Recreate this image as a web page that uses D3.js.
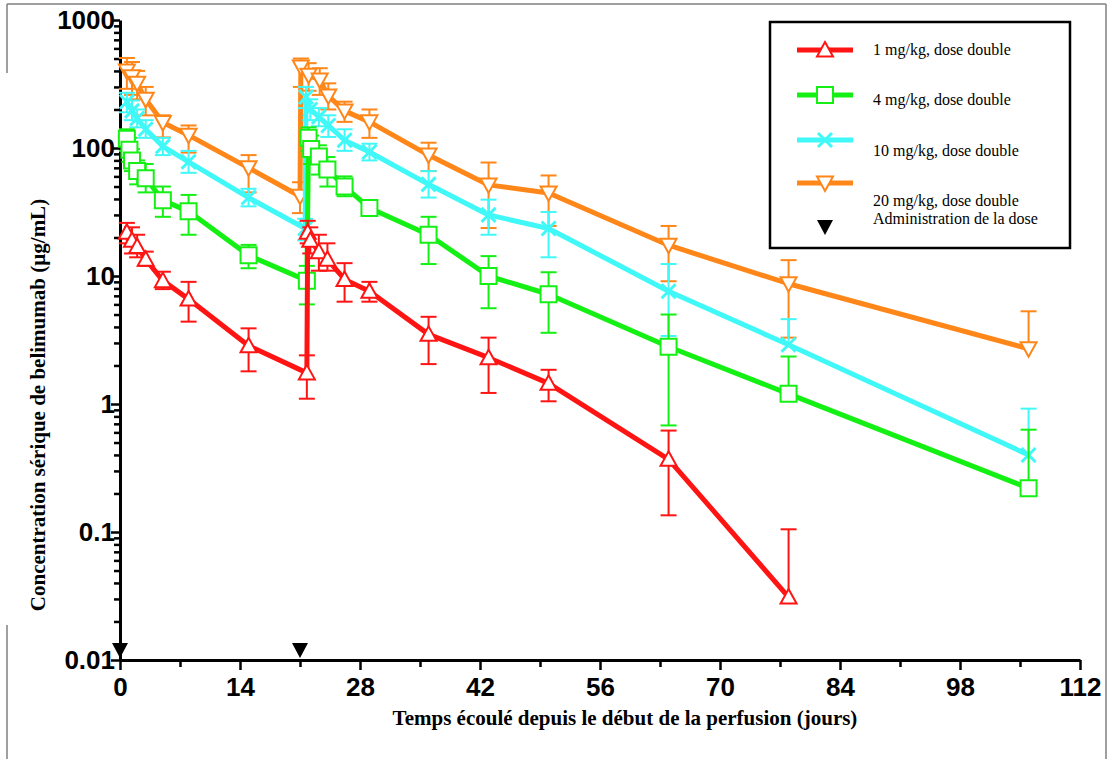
<!DOCTYPE html>
<html>
<head>
<meta charset="utf-8">
<script src="https://cdn.jsdelivr.net/npm/d3@7"></script>
<style>
  body { margin: 0; background: #fff; }
  svg { display: block; }
</style>
</head>
<body>
<div id="chart"></div>
<script>
// ticks
var xTicks = [0, 14, 28, 42, 56, 70, 84, 98, 112];
var xMinorTicks = [7, 21, 35, 49, 63, 77, 91, 105];
var yTicks = [0.01, 0.1, 1, 10, 100, 1000];
var doseDays = [0, 21];

// 1 mg/kg : day, mean, upper SD end, lower SD end (null = not drawn)
var d1Days  = [0.8, 1.4, 2, 3, 5, 8, 15, 21.8, 21.9, 22.2, 23.2, 24.2, 26.2, 29.1, 36, 43, 50, 64, 78];
var d1Mean  = [22, 19, 17, 13.5, 9.2, 6.6, 2.85, 1.75, 22, 19, 15.5, 13.5, 9.4, 7.6, 3.5, 2.3, 1.45, 0.37, 0.031];
var d1Upper = [26, 24, 21, 15.5, 10.8, 9, 3.9, 2.4, 27, 24, 21, 18, 12.6, 9, 4.8, 3.3, 1.85, 0.62, 0.105];
var d1Lower = [18, 15, 14, 12, 7.9, 4.4, 1.8, 1.1, 18, 15, 11, 11, 6.3, 6.3, 2.05, 1.22, 1.05, 0.135, null];

// 4 mg/kg
var d4Days  = [0.8, 1.1, 1.4, 2, 3, 5, 8, 15, 21.8, 22, 22.3, 23.2, 24.2, 26.2, 29.1, 36, 43, 50, 64, 78, 106];
var d4Mean  = [118, 97, 80, 66, 58, 39, 32, 14.5, 9.2, 120, 98, 86, 68, 50, 34, 21, 10, 7.2, 2.8, 1.2, 0.22];
var d4Upper = [140, 120, 98, 80, 75, 50, 43, 17.5, 12, 145, 125, 105, 85, 60, 37, 29, 14.3, 10.7, 5, 2.35, 0.63];
var d4Lower = [95, 78, 66, 52, 45, 29, 21, 11.5, 6, 95, 75, 62, 50, 42, 30, 12.4, 5.6, 3.6, 0.68, null, null];

// 10 mg/kg
var d10Days  = [0.8, 1.4, 2, 3, 5, 8, 15, 21.6, 21.7, 22.2, 23.2, 24.3, 26.2, 29.1, 36, 43, 50, 64, 78, 106];
var d10Mean  = [230, 195, 170, 140, 103, 78, 41, 23.5, 250, 200, 175, 150, 115, 93, 52, 30, 23.5, 7.6, 2.9, 0.4];
var d10Upper = [270, 235, 200, 165, 120, 95, 48, 28, 300, 240, 205, 180, 140, 108, 66, 39.5, 31.6, 12.4, 4.6, 0.92];
var d10Lower = [190, 165, 145, 120, 88, 64, 35, 19, 205, 165, 148, 122, 95, 80, 41, 21, 14, 3.4, null, null];

// 20 mg/kg
var d20Days  = [0.8, 1.4, 2, 3, 5, 8, 15, 21, 21.1, 22, 23.3, 24.3, 26.2, 29.1, 36, 43, 50, 64, 78, 106];
var d20Mean  = [400, 360, 320, 240, 158, 126, 70, 42, 430, 370, 340, 255, 195, 160, 88, 51.5, 44.5, 17.4, 8.7, 2.7];
var d20Upper = [505, 470, 400, 300, 180, 150, 88, 54, 500, 460, 420, 320, 230, 200, 110, 77, 61, 24.6, 13.3, 5.3];
var d20Lower = [290, 260, 240, 180, 121, 92, 45, 31, 300, 280, 260, 200, 160, 120, 66, 23.7, 24.6, 9.1, 3.3, null];

var seriesNames = ["1 mg/kg, dose double", "4 mg/kg, dose double", "10 mg/kg, dose double", "20 mg/kg, dose double"];
var doseLabel = "Administration de la dose";
var colors = ["#ff1414", "#14f014", "#40f8f8", "#ff8618"];
var shapes = ["up", "square", "cross", "down"];

function build(days, mean, up, lo) {
  return days.map(function(d, i) {
    return { day: d, mean: mean[i], up: up[i], lo: lo[i] };
  });
}

var series = [
  build(d1Days, d1Mean, d1Upper, d1Lower),
  build(d4Days, d4Mean, d4Upper, d4Lower),
  build(d10Days, d10Mean, d10Upper, d10Lower),
  build(d20Days, d20Mean, d20Upper, d20Lower)
];

var svgWidth = 1113, svgHeight = 759;

var svg = d3.select("#chart").append("svg")
  .attr("width", svgWidth)
  .attr("height", svgHeight);

// scanned page frame
var frame = svg.append("g").attr("stroke", "#808080").attr("stroke-width", 1.5).attr("fill", "none");
frame.append("line").attr("x1", 7).attr("y1", 4).attr("x2", 1106).attr("y2", 4);
frame.append("line").attr("x1", 1106).attr("y1", 4).attr("x2", 1106).attr("y2", 759);
frame.append("line").attr("x1", 7).attr("y1", 4).attr("x2", 7).attr("y2", 73);
frame.append("line").attr("x1", 7).attr("y1", 625).attr("x2", 7).attr("y2", 759);

var xScale = d3.scaleLinear().domain([0, 112]).range([120, 1080]);
var yScale = d3.scaleLog().domain([0.01, 1000]).range([660, 20]);

// minor log ticks
var yMinorTicks = [];
[-2, -1, 0, 1, 2].forEach(function(k) {
  for (var m = 2; m <= 9; m++) yMinorTicks.push(m * Math.pow(10, k));
});

var tickFont = "'Liberation Sans', Arial, sans-serif";
var serif = "'Liberation Serif', 'Times New Roman', serif";

// x axis
var xAxisG = svg.append("g")
  .attr("transform", "translate(0,660)")
  .call(d3.axisBottom(xScale).tickValues(xTicks).tickSize(10).tickSizeOuter(0).tickPadding(8));
svg.append("g")
  .attr("transform", "translate(0,660)")
  .call(d3.axisBottom(xScale).tickValues(xMinorTicks).tickSize(7).tickSizeOuter(0).tickFormat(""))
  .select(".domain").remove();

// y axis
var yAxisG = svg.append("g")
  .attr("transform", "translate(120,0)")
  .call(d3.axisLeft(yScale).tickValues(yTicks).tickSize(9).tickSizeOuter(0)
    .tickFormat(function(d) { return d >= 1 ? d3.format("d")(d) : String(d); }));
svg.append("g")
  .attr("transform", "translate(120,0)")
  .call(d3.axisLeft(yScale).tickValues(yMinorTicks).tickSize(6).tickSizeOuter(0).tickFormat(""))
  .select(".domain").remove();

svg.selectAll(".domain").attr("stroke", "#000").attr("stroke-width", 3);
svg.selectAll(".tick line").attr("stroke", "#000").attr("stroke-width", 2.5);
xAxisG.selectAll("text")
  .attr("font-family", tickFont).attr("font-weight", "bold").attr("font-size", 26).attr("fill", "#000");
yAxisG.selectAll("text")
  .attr("x", -5)
  .attr("font-family", tickFont).attr("font-weight", "bold").attr("font-size", 26).attr("fill", "#000");

// axis titles
svg.append("text")
  .attr("x", 625).attr("y", 725)
  .attr("text-anchor", "middle")
  .attr("font-family", serif)
  .attr("font-weight", "bold").attr("font-size", 21)
  .text("Temps écoulé depuis le début de la perfusion (jours)");

svg.append("text")
  .attr("transform", "translate(45,405) rotate(-90)")
  .attr("text-anchor", "middle")
  .attr("font-family", serif)
  .attr("font-weight", "bold").attr("font-size", 21)
  .text("Concentration sérique de belimumab (µg/mL)");

function markerPath(shape) {
  if (shape === "up") return "M0,-8L8,6.5L-8,6.5Z";
  if (shape === "down") return "M0,8L8,-6.5L-8,-6.5Z";
  if (shape === "square") return "M-8,-8H8V8H-8Z";
  return "M-7,-7L7,7M-7,7L7,-7";
}

var line = d3.line()
  .x(function(d) { return xScale(d.day); })
  .y(function(d) { return yScale(d.mean); });

// draw 20 mg/kg first, 1 mg/kg last
[3, 2, 1, 0].forEach(function(si) {
  var pts = series[si];
  var col = colors[si];
  var g = svg.append("g");

  // SD bars
  var eb = g.append("g").attr("stroke", col).attr("stroke-width", 2).attr("fill", "none");
  pts.forEach(function(p) {
    var px = xScale(p.day);
    var yTop = yScale(p.up);
    var yBot = p.lo ? yScale(p.lo) : yScale(p.mean);
    eb.append("line").attr("x1", px).attr("x2", px).attr("y1", yTop).attr("y2", yBot);
    eb.append("line").attr("x1", px - 8).attr("x2", px + 8).attr("y1", yTop).attr("y2", yTop);
    if (p.lo) eb.append("line").attr("x1", px - 8).attr("x2", px + 8).attr("y1", yBot).attr("y2", yBot);
  });

  g.append("path")
    .datum(pts)
    .attr("d", line)
    .attr("fill", "none")
    .attr("stroke", col)
    .attr("stroke-width", 5)
    .attr("stroke-linejoin", "round");

  g.selectAll(".mk")
    .data(pts)
    .enter()
    .append("path")
    .attr("class", "mk")
    .attr("transform", function(d) { return "translate(" + xScale(d.day) + "," + yScale(d.mean) + ")"; })
    .attr("d", markerPath(shapes[si]))
    .attr("fill", shapes[si] === "cross" ? "none" : "#fff")
    .attr("stroke", col)
    .attr("stroke-width", shapes[si] === "cross" ? 3 : 2);
});

// dose administration markers
svg.selectAll(".dose")
  .data(doseDays)
  .enter()
  .append("path")
  .attr("class", "dose")
  .attr("transform", function(d) { return "translate(" + xScale(d) + ",650)"; })
  .attr("d", "M0,8L8,-7L-8,-7Z")
  .attr("fill", "#000");

// legend
var leg = svg.append("g");
leg.append("rect")
  .attr("x", 770).attr("y", 22).attr("width", 300).attr("height", 226)
  .attr("fill", "#fff").attr("stroke", "#000").attr("stroke-width", 2.5);

var legRowY = [50, 95, 140, 183];
var legTextY = [55, 105, 156, 206];
seriesNames.forEach(function(name, i) {
  leg.append("line")
    .attr("x1", 797).attr("x2", 853).attr("y1", legRowY[i]).attr("y2", legRowY[i])
    .attr("stroke", colors[i]).attr("stroke-width", 5);
  leg.append("path")
    .attr("transform", "translate(825," + legRowY[i] + ")")
    .attr("d", markerPath(shapes[i]))
    .attr("fill", shapes[i] === "cross" ? "none" : "#fff")
    .attr("stroke", colors[i])
    .attr("stroke-width", shapes[i] === "cross" ? 3 : 2);
  leg.append("text")
    .attr("x", 873).attr("y", legTextY[i])
    .attr("font-family", serif)
    .attr("font-size", 16)
    .text(name);
});
leg.append("path")
  .attr("transform", "translate(825,227)")
  .attr("d", "M0,8L8,-7L-8,-7Z")
  .attr("fill", "#000");
leg.append("text")
  .attr("x", 873).attr("y", 224)
  .attr("font-family", serif)
  .attr("font-size", 16)
  .text(doseLabel);
</script>
</body>
</html>
